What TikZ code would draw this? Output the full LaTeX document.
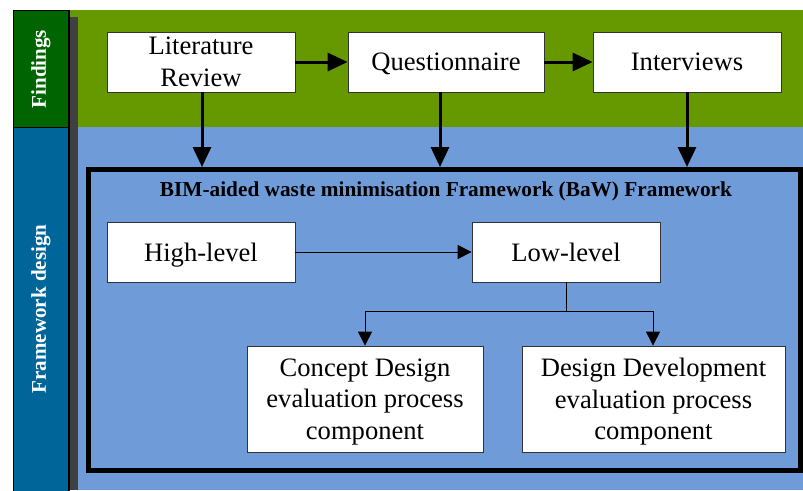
\documentclass[tikz,border=0pt]{standalone}
\usepackage{fontspec}
\setmainfont{Liberation Serif}
\usetikzlibrary{arrows.meta,positioning}

\definecolor{bandgreen}{HTML}{669900}
\definecolor{bandblue}{HTML}{6F9BD9}
\definecolor{tabgreen}{HTML}{006400}
\definecolor{tabblue}{HTML}{006699}
\definecolor{tabshadow}{HTML}{404040}

\tikzset{
  box/.style={draw=black!80, line width=0.8pt, fill=white, align=center,
    font=\fontsize{26.6}{31.7}\selectfont, inner sep=2pt, text depth=0pt},
  thickarrow/.style={line width=3pt, -{Triangle[length=20pt,width=18pt]}},
  thinarrow/.style={line width=1pt, -{Triangle[length=14pt,width=14pt]}},
  tablabel/.style={text=white, font=\fontsize{21}{24}\selectfont\bfseries, rotate=90},
}

\begin{document}
\begin{tikzpicture}[x=1pt,y=-1pt]
\useasboundingbox (0,0) rectangle (803,490);

% background bands
\fill[bandgreen] (69,10) rectangle (803,127);
\fill[bandblue] (69,127) rectangle (803,490);
\fill[tabshadow] (69,17) rectangle (78,490);

% side tabs
\draw[fill=tabgreen, line width=1.5pt] (13.5,10.5) rectangle (69,127.5);
\draw[fill=tabblue, line width=1.5pt] (13.5,127.5) rectangle (69,492);
\node[tablabel] (findings) at (41,69) {Findings};
\node[tablabel] (design) at (41,309) {Framework design};

% findings row
\node[box, minimum width=188pt, minimum height=60pt] (lit) at (201,62) {Literature\\Review};
\node[box, minimum width=196pt, minimum height=60pt] (quest) at (446,62) {Questionnaire};
\node[box, minimum width=188pt, minimum height=60pt] (inter) at (687,62) {Interviews};

% framework frame
\node[draw, line width=5pt, minimum width=711.5pt, minimum height=300.5pt,
      inner sep=0pt] (frame) at (444.25,319.75) {};
\node[font=\fontsize{21.3}{24}\selectfont\bfseries] (title) at (446,191)
  {BIM-aided waste minimisation Framework (BaW) Framework};

\node[box, minimum width=188pt, minimum height=60pt] (high) at (201,252) {High-level};
\node[box, minimum width=188pt, minimum height=60pt] (low) at (566,252) {Low-level};
\node[box, minimum width=236pt, minimum height=106pt] (concept) at (365,399)
  {Concept Design\\evaluation process\\component};
\node[box, minimum width=263pt, minimum height=106pt] (devel) at (653.5,399)
  {Design Development\\evaluation process\\component};

% connectors
\draw[thickarrow] (lit) -- (quest);
\draw[thickarrow] (quest) -- (inter);
\draw[thickarrow] ([xshift=1pt]lit.south) -- ([xshift=1pt]lit.south |- frame.north);
\draw[thickarrow] ([xshift=-6pt]quest.south) -- ([xshift=-6pt]quest.south |- frame.north);
\draw[thickarrow] (inter.south) -- (inter.south |- frame.north);

\draw[thinarrow] (high) -- (low);
\coordinate (split) at (566,311);
\draw[thinarrow] (low.south) -- (split) -| (concept.north);
\draw[thinarrow] (split) -| ([xshift=-0.5pt]devel.north);
\end{tikzpicture}
\end{document}
